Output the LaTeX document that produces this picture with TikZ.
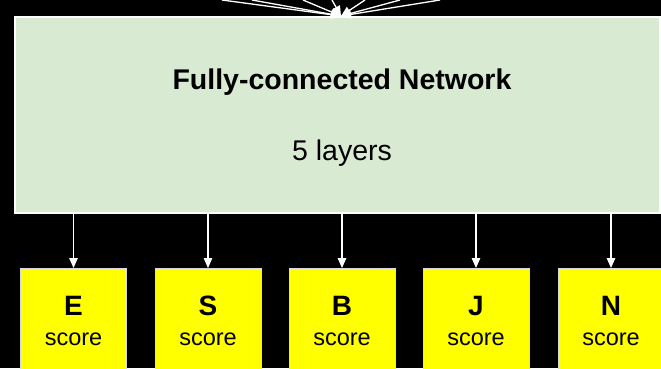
\documentclass[tikz,border=0pt]{standalone}
\usepackage{fontspec}
\setmainfont{Liberation Sans}
\usetikzlibrary{arrows.meta}
\definecolor{fcgreen}{HTML}{D9EAD3}
\definecolor{scoreyellow}{HTML}{FFFF00}
\tikzset{
  wire/.style={draw=white, line width=1.3pt, -{Triangle[length=10pt,width=8.5pt]}},
  netbox/.style={draw=white, line width=2pt, fill=fcgreen, minimum width=645pt, minimum height=196pt, anchor=north west, inner sep=0pt},
  scorebox/.style={draw=white!85!black, line width=1pt, fill=scoreyellow, minimum width=106pt, minimum height=130pt, anchor=north, inner sep=0pt},
  titletext/.style={font=\fontsize{28.5}{32}\selectfont\bfseries, text=black, inner sep=0pt, anchor=base},
  subtext/.style={font=\fontsize{28.5}{32}\selectfont, text=black, inner sep=0pt, anchor=base},
  letter/.style={font=\fontsize{28}{32}\selectfont\bfseries, text=black, inner sep=0pt, anchor=base},
  scoretext/.style={font=\fontsize{23.5}{27}\selectfont, text=black, inner sep=0pt, anchor=base},
}
\begin{document}
\begin{tikzpicture}[x=1pt,y=-1pt]
\useasboundingbox (0,0) rectangle (661,368);
\fill[black] (0,0) rectangle (661,368);
\clip (0,0) rectangle (661,368);
\node[netbox] (fcn) at (14,16) {};
\node[titletext] (title) at (342,89) {Fully-connected Network};
\node[subtext] (layers) at (342,160) {5 layers};
% incoming connectors from above
\coordinate (t) at (341,16);
\coordinate (s1) at (222,0);
\coordinate (s2) at (252,0);
\coordinate (s3) at (303,0);
\coordinate (s4) at (332,0);
\coordinate (s5) at (365,0);
\coordinate (s6) at (400,0);
\coordinate (s7) at (440,0);
\foreach \s in {s1,s2,s3,s4,s5,s6,s7} \draw[wire] (\s) -- (t);
% score boxes
\foreach \n/\x/\L in {e/73.5/E, s/208/S, b/342/B, j/476/J, n/611/N} {
  \node[scorebox] (\n) at (\x,268) {};
  \node[letter] (\n l) at (\x,315) {\L};
  \node[scoretext] (\n t) at (\x,345) {score};
  \draw[wire] (fcn.south -| \n.north) -- (\n.north);
}
\end{tikzpicture}
\end{document}
